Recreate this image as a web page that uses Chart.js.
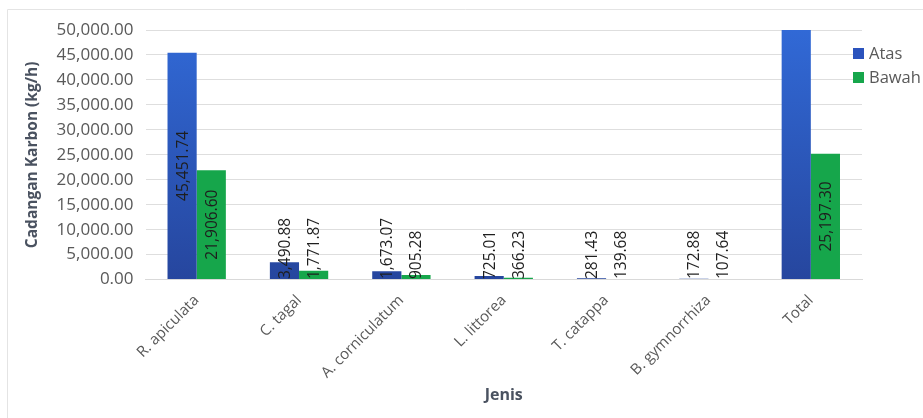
<!DOCTYPE html>
<html>
<head>
<meta charset="utf-8">
<script src="https://cdn.jsdelivr.net/npm/chart.js@4.4.1/dist/chart.umd.min.js"></script>
<style>
  html, body { margin: 0; padding: 0; background: #ffffff; }
  #wrap { width: 923px; height: 418px; position: relative; }
</style>
</head>
<body>
<div id="wrap"><canvas id="chart" width="923" height="418"></canvas></div>
<script>
const jenis = ['R. apiculata', 'C. tagal', 'A. corniculatum', 'L. littorea', 'T. catappa', 'B. gymnorrhiza', 'Total'];
const atas = [45451.74, 3490.88, 1673.07, 725.01, 281.43, 172.88, 51795.01];
const bawah = [21906.60, 1771.87, 905.28, 366.23, 139.68, 107.64, 25197.30];
const yMax = 50000;
const yStep = 5000;

const fmt = v => v.toLocaleString('en-US', { minimumFractionDigits: 2, maximumFractionDigits: 2 });
const fontFam = '"Open Sans", sans-serif';

function blueFill(ctx) {
    const area = ctx.chart.chartArea;
    if (!area) return '#2d5cc4';
    const g = ctx.chart.ctx.createLinearGradient(0, area.top, 0, area.bottom);
    g.addColorStop(0, '#3169d6');
    g.addColorStop(1, '#26469e');
    return g;
}

// frame line like the original chart box
const framePlugin = {
    id: 'frame',
    beforeDraw(chart) {
        const c = chart.ctx;
        c.save();
        c.strokeStyle = '#e4e4e4';
        c.lineWidth = 1;
        c.beginPath();
        c.moveTo(7.5, 418);
        c.lineTo(7.5, 9.5);
        c.lineTo(923, 9.5);
        c.stroke();
        c.restore();
    }
};

// rotated value labels on the bars
const valueLabels = {
    id: 'valueLabels',
    afterDatasetsDraw(chart) {
        const c = chart.ctx;
        c.save();
        c.font = '15.5px ' + fontFam;
        c.fillStyle = '#1e1e1e';
        c.textBaseline = 'middle';
        chart.data.datasets.forEach((ds, di) => {
            chart.getDatasetMeta(di).data.forEach((bar, i) => {
                const v = ds.data[i];
                if (v > yMax) return;
                const txt = fmt(v);
                const w = c.measureText(txt).width;
                const h = bar.base - bar.y;
                let cy;
                if (w + 10 < h) cy = (bar.y + bar.base) / 2;
                else cy = bar.base - w / 2;
                c.save();
                c.translate(bar.x, cy);
                c.rotate(-Math.PI / 2);
                c.textAlign = 'center';
                c.fillText(txt, 0, 1);
                c.restore();
            });
        });
        c.restore();
    }
};

// legend at the right, over the edge of the plot like in the source
const sideLegend = {
    id: 'sideLegend',
    afterDraw(chart) {
        const c = chart.ctx;
        c.save();
        c.font = '16.5px ' + fontFam;
        c.textBaseline = 'middle';
        c.textAlign = 'left';
        chart.data.datasets.forEach((ds, i) => {
            const y = 53 + i * 24;
            c.fillStyle = ds.legendColor;
            c.fillRect(853, y - 5, 11, 11);
            c.fillStyle = '#595959';
            c.fillText(ds.label, 869, y + 1);
        });
        c.restore();
    }
};

new Chart(document.getElementById('chart'), {
    type: 'bar',
    data: {
        labels: jenis,
        datasets: [
            { label: 'Atas', data: atas, backgroundColor: blueFill, legendColor: '#2b53bd',
              barPercentage: 1, categoryPercentage: 0.57 },
            { label: 'Bawah', data: bawah, backgroundColor: '#16a64b', legendColor: '#16a64b',
              barPercentage: 1, categoryPercentage: 0.57 }
        ]
    },
    options: {
        responsive: false,
        animation: false,
        layout: { padding: { left: 23, right: 61, top: 30, bottom: 13 } },
        plugins: {
            legend: { display: false },
            tooltip: { enabled: false }
        },
        scales: {
            x: {
                grid: { display: false },
                border: { color: '#d9d9d9' },
                ticks: {
                    color: '#595959',
                    font: { family: fontFam, size: 15 },
                    maxRotation: 45,
                    minRotation: 45,
                    padding: 4
                },
                title: {
                    display: true,
                    text: 'Jenis',
                    color: '#4a5260',
                    font: { family: fontFam, size: 16, weight: 'bold' },
                    padding: { top: 0, bottom: 0 }
                }
            },
            y: {
                min: 0,
                max: yMax,
                grid: { color: '#dedede', drawTicks: false },
                border: { display: false },
                ticks: {
                    stepSize: yStep,
                    color: '#595959',
                    padding: 12,
                    font: { family: fontFam, size: 17 },
                    callback: v => fmt(v)
                },
                title: {
                    display: true,
                    text: 'Cadangan Karbon (kg/h)',
                    color: '#4a5260',
                    font: { family: fontFam, size: 15.5, weight: 'bold' },
                    padding: { top: 0, bottom: 3 }
                }
            }
        }
    },
    plugins: [framePlugin, valueLabels, sideLegend]
});
</script>
</body>
</html>
